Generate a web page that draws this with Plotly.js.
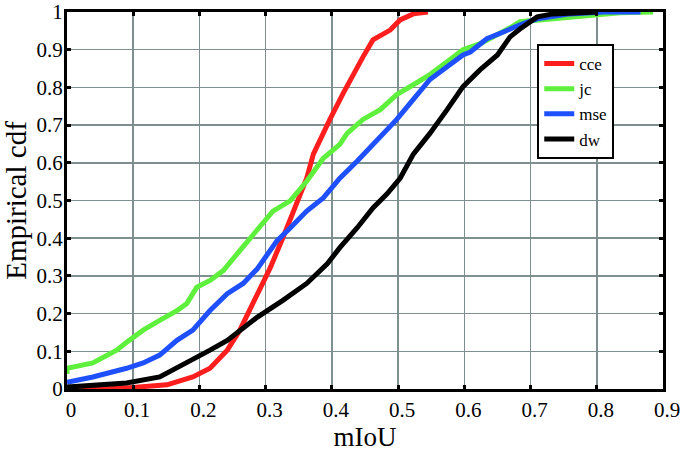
<!DOCTYPE html>
<html><head><meta charset="utf-8">
<script src="https://cdn.plot.ly/plotly-3.0.1.min.js"></script>
<style>body{margin:0;background:#fff}#c{width:685px;height:455px}</style>
</head><body><div id="c"></div>
<script>
const cceX = [0.01,0.09,0.151,0.19,0.216,0.242,0.261,0.281,0.292,0.307,0.326,0.347,0.362,0.372,0.382,0.397,0.417,0.432,0.447,0.462,0.488,0.503,0.523,0.545];
const cceY = [0.0,0.003,0.011,0.032,0.055,0.103,0.156,0.227,0.27,0.322,0.401,0.491,0.559,0.623,0.657,0.715,0.784,0.836,0.881,0.926,0.952,0.979,0.995,1.0];
const jcX = [0,0,0.039,0.075,0.09,0.115,0.14,0.166,0.181,0.196,0.216,0.236,0.261,0.287,0.311,0.337,0.362,0.387,0.412,0.423,0.447,0.473,0.498,0.523,0.548,0.574,0.598,0.624,0.65,0.669,0.684,0.734,0.76,0.835,0.885];
const jcY = [0.04,0.055,0.069,0.103,0.124,0.156,0.182,0.208,0.227,0.27,0.288,0.314,0.367,0.42,0.472,0.499,0.551,0.612,0.649,0.678,0.715,0.741,0.781,0.807,0.834,0.868,0.9,0.916,0.939,0.958,0.974,0.982,0.987,0.998,1.0];
const mseX = [0,0.039,0.09,0.115,0.14,0.166,0.19,0.216,0.242,0.266,0.287,0.317,0.337,0.362,0.387,0.412,0.438,0.462,0.473,0.498,0.523,0.548,0.574,0.598,0.609,0.634,0.659,0.684,0.71,0.76,0.81,0.866];
const mseY = [0.018,0.032,0.055,0.069,0.09,0.129,0.156,0.208,0.253,0.28,0.318,0.393,0.427,0.472,0.507,0.559,0.604,0.649,0.67,0.715,0.768,0.821,0.855,0.886,0.894,0.929,0.947,0.966,0.982,0.995,1.0,1.0];
const dwX = [0,0.09,0.14,0.19,0.216,0.242,0.266,0.287,0.326,0.362,0.393,0.412,0.438,0.462,0.483,0.503,0.523,0.548,0.574,0.598,0.624,0.65,0.669,0.684,0.71,0.734,0.8];
const dwY = [0.005,0.016,0.032,0.077,0.103,0.129,0.161,0.19,0.235,0.28,0.332,0.375,0.427,0.48,0.517,0.559,0.623,0.678,0.741,0.802,0.847,0.886,0.934,0.955,0.987,0.995,1.0];
const xTickVals = [0,0.1,0.2,0.3,0.4,0.5,0.6,0.7,0.8,0.9];
const xTickText = ['0','0.1','0.2','0.3','0.4','0.5','0.6','0.7','0.8','0.9'];
const yTickVals = [0,0.1,0.2,0.3,0.4,0.5,0.6,0.7,0.8,0.9,1];
const yTickText = ['0','0.1','0.2','0.3','0.4','0.5','0.6','0.7','0.8','0.9','1'];

const SERIF = 'Liberation Serif';
const mk = (x,y,name,color)=>({x:x,y:y,name:name,type:'scatter',mode:'lines',line:{color:color,width:5,shape:'linear'}});
const data = [
  mk(cceX,cceY,'cce','#ff1e1e'),
  mk(jcX,jcY,'jc','#5ef03c'),
  mk(mseX,mseY,'mse','#1e50ff'),
  mk(dwX,dwY,'dw','#000000')
];
function axis(extra){
  return Object.assign({
    showline:true, linecolor:'#000', linewidth:3, mirror:'ticks',
    ticks:'inside', ticklen:4, tickwidth:3, tickcolor:'#000',
    showgrid:true, gridcolor:'#7d8f8f', gridwidth:1.5, zeroline:false,
    tickmode:'array', ticklabeloverflow:'allow',
    tickfont:{family:SERIF, size:21, color:'#000'}
  }, extra);
}
const layout = {
  width:685, height:455,
  margin:{l:67, r:22, t:12, b:66},
  paper_bgcolor:'#fff', plot_bgcolor:'#fff',
  font:{family:SERIF, color:'#000'},
  showlegend:true,
  legend:{x:0.789, y:0.915, xanchor:'left', yanchor:'top', bgcolor:'#fff', bordercolor:'#000', borderwidth:2,
    font:{family:SERIF, size:17, color:'#000'}, tracegroupgap:0, itemwidth:30},
  xaxis: axis({range:[0,0.9], tickvals:xTickVals, ticktext:xTickText, ticklabelshift:4,
    title:{text:'mIoU', font:{family:SERIF, size:27, color:'#000'}, standoff:0}}),
  yaxis: axis({range:[0,1], tickvals:yTickVals, ticktext:yTickText, ticklabelstandoff:-3,
    title:{text:'Empirical cdf', font:{family:SERIF, size:29, color:'#000'}, standoff:4}})
};
Plotly.newPlot('c', data, layout, {displayModeBar:false, staticPlot:true});
</script></body></html>
